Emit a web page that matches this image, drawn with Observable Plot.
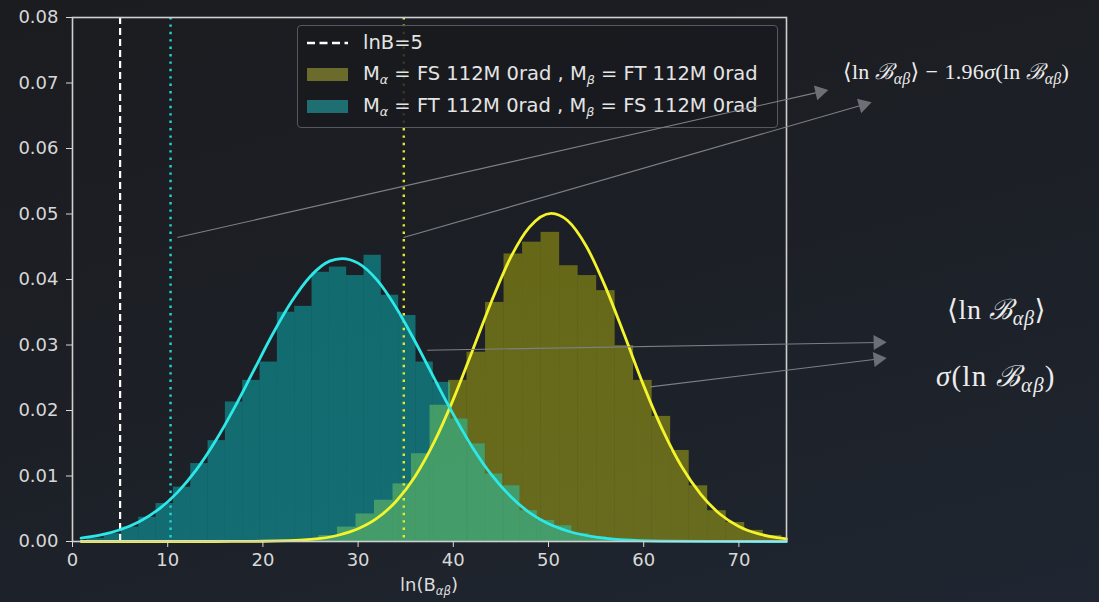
<!DOCTYPE html>
<html><head><meta charset="utf-8">
<script src="https://cdn.jsdelivr.net/npm/d3@7"></script>
<script src="https://cdn.jsdelivr.net/npm/@observablehq/plot@0.6"></script>
<style>
html,body{margin:0;padding:0;}
body{width:1099px;height:602px;overflow:hidden;background:linear-gradient(165deg,#1b1c20 0%,#1c1f25 45%,#1f2631 100%);font-family:"DejaVu Sans",sans-serif;}
#wrap{position:relative;width:1099px;height:602px;}
#wrap svg{position:absolute;left:0;top:0;}
.legend{position:absolute;left:297px;top:25px;width:481px;height:103px;box-sizing:border-box;border:1px solid #55585d;border-radius:4px;background:rgba(24,26,30,0.86);color:#e4e4e4;font-size:19.5px;}
.row{position:absolute;left:0;height:26px;line-height:26px;white-space:nowrap;}
.sw{position:absolute;left:9px;width:41px;height:13px;}
.txt{position:absolute;left:65px;top:0;}
.math{position:absolute;white-space:nowrap;color:#ececec;font-family:"Liberation Serif","DejaVu Serif",serif;}
.math sub{font-size:72%;vertical-align:-0.3em;font-style:italic;}
.cal{font-family:"DejaVu Serif",serif;font-style:italic;}
.op{padding:0 0.28em;}
.xlabel{position:absolute;left:0;width:858px;text-align:center;top:574px;color:#dcdcdc;font-size:18px;}
.xlabel sub{font-size:65%;font-style:italic;vertical-align:-0.3em;}
.legend sub{font-size:65%;font-style:italic;vertical-align:-0.3em;}
</style>
</head><body>
<div id="wrap"></div>
<script>
// ---- data ----
const xTicks = [0, 10, 20, 30, 40, 50, 60, 70];
const yTicks = [0, 0.01, 0.02, 0.03, 0.04, 0.05, 0.06, 0.07, 0.08];

// histogram of M_alpha = FT, M_beta = FS (cyan)
const cyanEdges = [1.50,3.32,5.14,6.96,8.78,10.60,12.42,14.24,16.06,17.88,19.70,21.52,23.34,25.16,26.98,28.80,30.62,32.44,34.26,36.08,37.90,39.72,41.54,43.36,45.18,47.00,48.82,50.64,52.46,54.28,56.10,57.92];
const cyanDensity = [0.0005,0.0012,0.0022,0.0037,0.0058,0.0083,0.0119,0.0154,0.0213,0.0246,0.0274,0.0350,0.0359,0.0411,0.0419,0.0406,0.0437,0.0376,0.0345,0.0274,0.0243,0.0187,0.0149,0.0103,0.0085,0.0047,0.0032,0.0024,0.0012,0.0007,0.0003];

// histogram of M_alpha = FS, M_beta = FT (yellow)
const yellowEdges = [23.94,25.89,27.83,29.78,31.72,33.67,35.61,37.56,39.50,41.44,43.39,45.33,47.28,49.22,51.17,53.11,55.06,57.00,58.94,60.89,62.83,64.78,66.72,68.67,70.61,72.56,74.50,76.44];
const yellowDensity = [0.0003,0.0009,0.0022,0.0042,0.0063,0.0088,0.0134,0.0208,0.0246,0.0289,0.0365,0.0439,0.0457,0.0472,0.0421,0.0406,0.0383,0.0299,0.0246,0.0191,0.0139,0.0085,0.0047,0.0029,0.0017,0.0009,0.0004];

// fitted curves
const cyanCurveX = [0.9,3,5,7,9,11,13,15,17,19,21,23,25,27,28.3,30,32,34,36,38,40,42,44,46,48,50,52,55,58,62,66,75];
const cyanCurveY = [0.00052,0.00101,0.00179,0.00301,0.00485,0.00746,0.01093,0.0153,0.0204,0.0260,0.0316,0.0366,0.0405,0.0428,0.0432,0.0425,0.0399,0.0357,0.0305,0.0249,0.0194,0.0144,0.0102,0.0069,0.0044,0.0027,0.0016,0.00066,0.00024,0.00006,0.00001,0];
const yellowCurveX = [0.9,15,20,25,28,30,32,34,36,38,40,42,44,46,48,50.3,52,54,56,58,60,62,64,66,68,70,72,74,75];
const yellowCurveY = [0,0,0.00004,0.00032,0.00099,0.00194,0.00356,0.00615,0.00997,0.0152,0.0217,0.0291,0.0366,0.0433,0.0480,0.0501,0.0490,0.0450,0.0388,0.0314,0.0238,0.0170,0.0114,0.0072,0.0042,0.0023,0.0012,0.0006,0.0004];

// vertical reference lines
const lnBThreshold = 5;
const cyanCut = 10.3;   // <lnB> - 1.96 sigma, cyan
const yellowCut = 34.8; // <lnB> - 1.96 sigma, yellow

// annotation arrows (start -> tip), data coordinates
const arrowX1 = [11.0, 34.77, 37.26, 60.71];
const arrowY1 = [0.0464, 0.0464, 0.0292, 0.0236];
const arrowX2 = [79.27, 83.82, 85.4, 85.4];
const arrowY2 = [0.0689, 0.0670, 0.0304, 0.0280];

// ---- layout ----
const W = 1099, H = 602, mL = 72, mR = 313, mT = 17, mB = 61;
const xDomain = [0, 75], yDomain = [0, 0.08];
const kx = (W - mL - mR) / (xDomain[1] - xDomain[0]);
const ky = (H - mT - mB) / (yDomain[1] - yDomain[0]);

const cyanBins = cyanDensity.map((d, i) => ({x1: cyanEdges[i], x2: cyanEdges[i + 1], y: d}));
const yellowBins = yellowDensity.map((d, i) => ({x1: yellowEdges[i], x2: yellowEdges[i + 1], y: d}));
const cyanCurve = cyanCurveX.map((x, i) => ({x, y: cyanCurveY[i]}));
const yellowCurve = yellowCurveX.map((x, i) => ({x, y: yellowCurveY[i]}));

const arrows = arrowX1.map((x1, i) => {
  const y1 = arrowY1[i], x2 = arrowX2[i], y2 = arrowY2[i];
  const dxp = (x2 - x1) * kx, dyp = -(y2 - y1) * ky;
  const len = Math.hypot(dxp, dyp);
  const ux = dxp / len, uy = dyp / len;
  const back = 7.5; // centroid of triangle behind its tip
  return {
    x1, y1, x2, y2,
    cx: x2 - ux * back / kx,
    cy: y2 + uy * back / ky,
    rot: Math.atan2(dxp, -dyp) * 180 / Math.PI
  };
});

const common = {
  width: W, height: H,
  marginLeft: mL, marginRight: mR, marginTop: mT, marginBottom: mB,
  x: {domain: xDomain},
  y: {domain: yDomain},
  style: {background: "transparent", color: "#d8d8d8", fontFamily: "DejaVu Sans, sans-serif", fontSize: "18px", overflow: "visible"}
};

const main = Plot.plot({
  ...common,
  marks: [
    Plot.rect(yellowBins, {x1: "x1", x2: "x2", y1: d => 0, y2: "y", fill: "#ffff00", fillOpacity: 0.33, clip: true}),
    Plot.rect(cyanBins, {x1: "x1", x2: "x2", y1: d => 0, y2: "y", fill: "#00ffff", fillOpacity: 0.34, clip: true}),
    Plot.ruleX([lnBThreshold], {stroke: "#ffffff", strokeWidth: 2.2, strokeDasharray: "7,4"}),
    Plot.ruleX([cyanCut], {stroke: "#1fd6d6", strokeWidth: 2.4, strokeDasharray: "2.4,5"}),
    Plot.ruleX([yellowCut], {stroke: "#e8e82a", strokeWidth: 2.4, strokeDasharray: "2.4,5"}),
    Plot.line(yellowCurve, {x: "x", y: "y", stroke: "#f4f42c", strokeWidth: 2.8, curve: "monotone-x"}),
    Plot.line(cyanCurve, {x: "x", y: "y", stroke: "#2ee8e8", strokeWidth: 2.8, curve: "monotone-x"}),
    Plot.frame({stroke: "#cfcfcf", strokeWidth: 1.6}),
    Plot.axisX({ticks: xTicks, tickSize: 6, tickPadding: 6, label: null, tickFormat: d3.format("d")}),
    Plot.axisY({ticks: yTicks, tickSize: 6, tickPadding: 8, label: null, tickFormat: d3.format(".2f")})
  ]
});

const overlay = Plot.plot({
  ...common,
  x: {domain: xDomain, axis: null},
  y: {domain: yDomain, axis: null},
  marks: [
    Plot.link(arrows, {x1: "x1", y1: "y1", x2: "cx", y2: "cy", stroke: "#7d8086", strokeWidth: 1.1}),
    Plot.dot(arrows, {x: "cx", y: "cy", symbol: "triangle", r: 5.6, fill: "#6c6f75", stroke: "none", rotate: "rot"})
  ]
});

const wrap = document.getElementById("wrap");
wrap.appendChild(main);

const legend = document.createElement("div");
legend.className = "legend";
legend.innerHTML = `
  <div class="row" style="top:4px;width:100%">
    <svg width="52" height="26" style="position:absolute;left:0;top:0"><line x1="9" x2="50" y1="13" y2="13" stroke="#ffffff" stroke-width="2.4" stroke-dasharray="8,4.5"/></svg>
    <span class="txt">lnB=5</span>
  </div>
  <div class="row" style="top:35px;width:100%">
    <div class="sw" style="top:7px;background:#6b6b2c"></div>
    <span class="txt">M<sub>α</sub> = FS 112M 0rad , M<sub>β</sub> = FT 112M 0rad</span>
  </div>
  <div class="row" style="top:67px;width:100%">
    <div class="sw" style="top:7px;background:#1f6e72"></div>
    <span class="txt">M<sub>α</sub> = FT 112M 0rad , M<sub>β</sub> = FS 112M 0rad</span>
  </div>`;
wrap.appendChild(legend);
wrap.appendChild(overlay);

const xl = document.createElement("div");
xl.className = "xlabel";
xl.innerHTML = "ln(B<sub>αβ</sub>)";
wrap.appendChild(xl);

function addMath(html, left, top, size, spacing) {
  const d = document.createElement("div");
  d.className = "math";
  d.style.left = left + "px";
  d.style.top = top + "px";
  d.style.fontSize = size + "px";
  d.style.letterSpacing = (spacing || 0) + "px";
  d.innerHTML = html;
  wrap.appendChild(d);
}
const B = '<span class="cal">ℬ</span>';
addMath(`⟨ln ${B}<sub>αβ</sub>⟩<span class="op">−</span>1.96<i>σ</i>(ln ${B}<sub>αβ</sub>)`, 843, 55, 22, 0.3);
addMath(`⟨ln ${B}<sub>αβ</sub>⟩`, 947, 289, 28, 0.6);
addMath(`<i>σ</i>(ln ${B}<sub>αβ</sub>)`, 936, 355, 29, 1.2);
</script>
</body></html>
